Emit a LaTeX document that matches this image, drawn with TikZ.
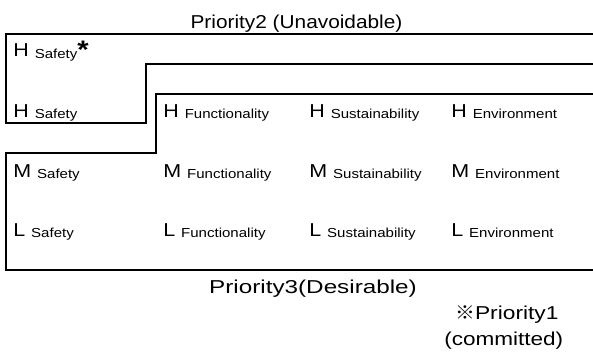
\documentclass[tikz,border=0pt]{standalone}
\usepackage{fontspec}
\setmainfont{Liberation Sans}[FakeStretch=1.15]
\newfontfamily\jpfont{Noto Sans CJK JP}
\usetikzlibrary{positioning}

\newcommand{\lvl}[2]{#1\hspace{4.5pt}\raisebox{-0.8pt}{\fontsize{9.8}{11}\selectfont #2}}

\begin{document}
\begin{tikzpicture}[x=0.75pt, y=-0.75pt,
    frame/.style={line width=1.8pt, line join=miter},
    lbl/.style={anchor=base west, inner sep=0pt, font=\fontsize{14}{16}\selectfont},
    title/.style={anchor=base, inner sep=0pt, font=\fontsize{14}{16}\selectfont}]

    \useasboundingbox (0,0) rectangle (593,356);

    % priority 2 band
    \draw[frame] (593,34) -- (6,34) -- (6,123) -- (146,123) -- (146,64) -- (593,64);
    % priority 3 band
    \draw[frame] (593,94) -- (156,94) -- (156,153) -- (6,153) -- (6,270) -- (593,270);

    \node[title] (prio2) at (296.5,28.5) {\scalebox{0.97}[1]{Priority2 (Unavoidable)}};
    \node[title] (prio3) at (313,293.5) {\scalebox{1.13}[1]{Priority3(Desirable)}};

    \node[lbl] (hsafestar) at (13,57) {\lvl{H}{Safety}\raisebox{-1.5pt}{\fontsize{19}{20}\selectfont\bfseries *}};
    \node[lbl] (hsafe) at (13,117.3) {\lvl{H}{Safety}};
    \node[lbl] (hfunc) at (163,117.3) {\lvl{H}{Functionality}};
    \node[lbl] (hsust) at (309,117.3) {\lvl{H}{Sustainability}};
    \node[lbl] (henv) at (451,117.3) {\lvl{H}{Environment}};

    \node[lbl] (msafe) at (13,177.5) {\lvl{M}{Safety}};
    \node[lbl] (mfunc) at (163,177.5) {\lvl{M}{Functionality}};
    \node[lbl] (msust) at (309,177.5) {\lvl{M}{Sustainability}};
    \node[lbl] (menv) at (451,177.5) {\lvl{M}{Environment}};

    \node[lbl] (lsafe) at (13,236.5) {\lvl{L}{Safety}};
    \node[lbl] (lfunc) at (163,236.5) {\lvl{L}{Functionality}};
    \node[lbl] (lsust) at (309,236.5) {\lvl{L}{Sustainability}};
    \node[lbl] (lenv) at (451,236.5) {\lvl{L}{Environment}};

    \node[lbl] (prio1) at (455,320) {\scalebox{1.06}[1]{{\jpfont ※}Priority1}};
    \node[lbl] (commit) at (444,345) {\scalebox{1.05}[1]{(committed)}};
\end{tikzpicture}
\end{document}
